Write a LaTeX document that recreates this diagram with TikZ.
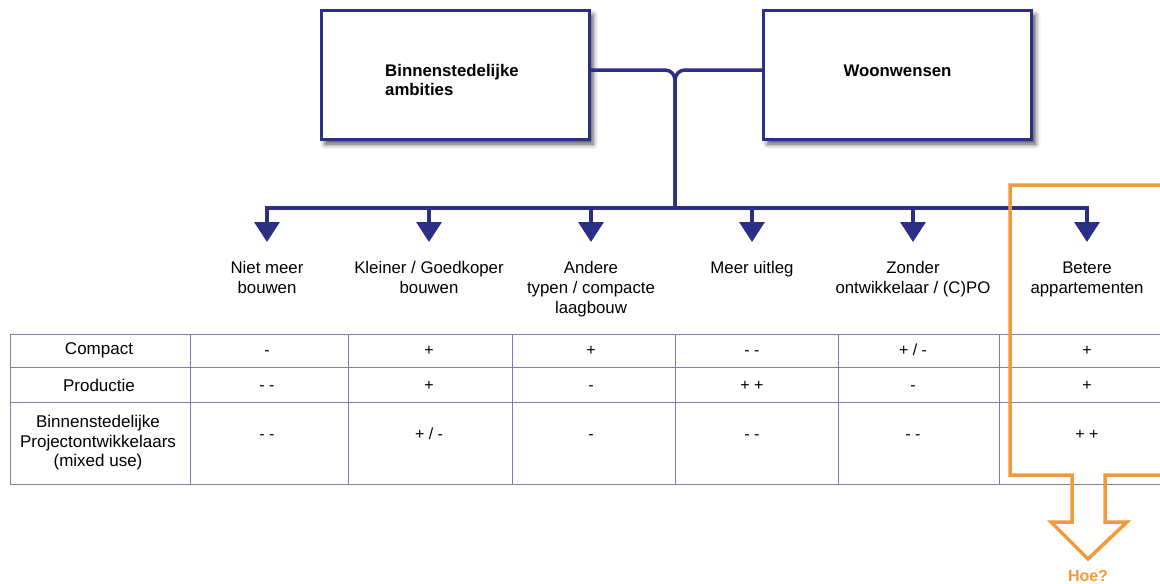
\documentclass[tikz,border=0pt]{standalone}
\usepackage{fontspec}
\setmainfont{Liberation Sans}
\usetikzlibrary{arrows.meta,shadows.blur}
\definecolor{navy}{HTML}{2B2F85}
\definecolor{orng}{HTML}{F29A38}
\definecolor{grid}{HTML}{7E7EAA}
\tikzset{
  box/.style={draw=navy, line width=3pt, fill=white, minimum width=268pt, minimum height=129pt, inner sep=0pt,
    blur shadow={shadow xshift=4pt, shadow yshift=-5pt, shadow blur radius=5pt, shadow opacity=70}},
  boxtext/.style={font=\fontsize{16.8}{19}\selectfont\bfseries, align=left, inner sep=0pt},
  head/.style={font=\fontsize{16.8}{20}\selectfont, align=center, anchor=north, inner sep=0pt},
  rowlab/.style={font=\fontsize{17}{19.5}\selectfont, align=center, inner sep=0pt},
  val/.style={font=\fontsize{16}{18}\selectfont, inner sep=0pt, text height=11.5pt, text depth=0pt},
  bus/.style={draw=navy, line width=3.5pt},
  drop/.style={draw=navy, line width=3.5pt, -{Triangle[width=25pt,length=20pt]}},
  gridline/.style={draw=grid, line width=0.9pt},
  hoe/.style={draw=orng, line width=3.5pt, line join=miter},
}
\begin{document}
\begin{tikzpicture}[x=1pt,y=-1pt]
\useasboundingbox (0,0) rectangle (1160,584);
% boxes
\node[box] (box1) at (455,74.5) {};
\node[box] (box2) at (897.5,74.5) {};
\node[boxtext, anchor=west] (t1) at (385,79.5) {Binnenstedelijke\\ambities};
\node[boxtext] (t2) at (897.5,70.5) {Woonwensen};
% junction
\coordinate (j) at (675,70);
\coordinate (jb) at (675,208);
\draw[bus, rounded corners=10pt] (box1.east |- j) -- (j) -- (jb);
\draw[bus, rounded corners=10pt] (box2.west |- j) -- (j) -- (jb);
% bus and drops
\foreach \i/\x in {1/267,2/429,3/591,4/752,5/913,6/1087}{
  \coordinate (b\i) at (\x,208);
  \coordinate (a\i) at (\x,242);
}
\draw[bus, line cap=rect] (b1) -- (b6);
\foreach \i in {1,...,6}{ \draw[drop] (b\i) -- (a\i); }
% headers
\node[head] (h1) at (267,261.5) {Niet meer\\bouwen};
\node[head] (h2) at (429,261.5) {Kleiner / Goedkoper\\bouwen};
\node[head] (h3) at (591,261.5) {Andere\\typen / compacte\\laagbouw};
\node[head] (h4) at (752,261.5) {Meer uitleg};
\node[head] (h5) at (913,261.5) {Zonder\\ontwikkelaar / (C)PO};
\node[head] (h6) at (1087,261.5) {Betere\\appartementen};
% table grid
\foreach \y in {334,367,402,484}{ \draw[gridline] (10,\y) -- (1160,\y); }
\foreach \x in {10,190,348,512,675,838,999}{ \draw[gridline] (\x,334) -- (\x,484); }
% row labels
\node[rowlab] (r1) at (99,350.5) {Compact};
\node[rowlab] (r2) at (99,385) {Productie};
\node[rowlab] (r3) at (98,443) {Binnenstedelijke\\Projectontwikkelaars\\(mixed use)};
% values row 1
\node[val] (v11) at (267,350) {-};
\node[val] (v12) at (429,350) {+};
\node[val] (v13) at (591,350) {+};
\node[val] (v14) at (752,350) {- -};
\node[val] (v15) at (913,350) {+ / -};
\node[val] (v16) at (1087,350) {+};
% values row 2
\node[val] (v21) at (267,385) {- -};
\node[val] (v22) at (429,385) {+};
\node[val] (v23) at (591,385) {-};
\node[val] (v24) at (752,385) {+ +};
\node[val] (v25) at (913,385) {-};
\node[val] (v26) at (1087,385) {+};
% values row 3
\node[val] (v31) at (267,434) {- -};
\node[val] (v32) at (429,434) {+ / -};
\node[val] (v33) at (591,434) {-};
\node[val] (v34) at (752,434) {- -};
\node[val] (v35) at (913,434) {- -};
\node[val] (v36) at (1087,434) {+ +};
% orange highlight arrow
\draw[hoe] (1165,185) -- (1010,185) -- (1010,475) -- (1072,475) -- (1072,522) -- (1051,522)
  -- (1088,559) -- (1127,522) -- (1105,522) -- (1105,475) -- (1165,475);
\node[font=\fontsize{16}{19}\selectfont\bfseries, text=orng, inner sep=0pt] (hoe) at (1088,576) {Hoe?};
\end{tikzpicture}
\end{document}
